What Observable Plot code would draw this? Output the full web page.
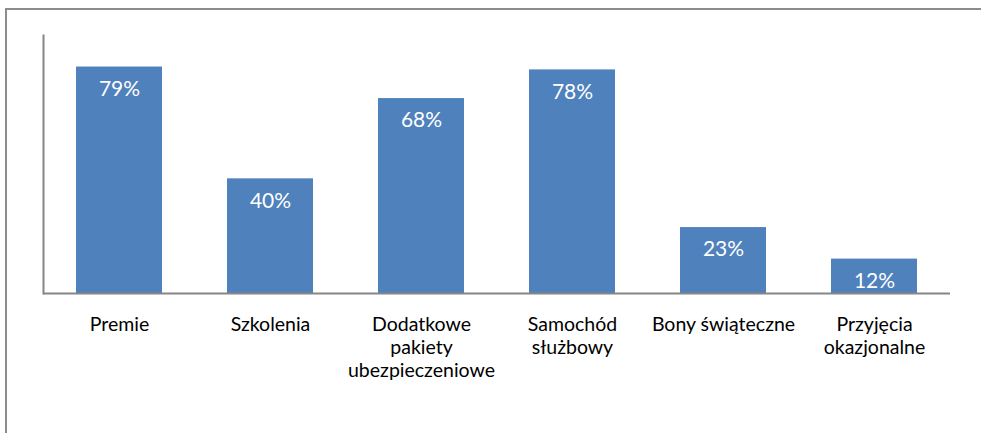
<!DOCTYPE html>
<html>
<head>
<meta charset="utf-8">
<script src="https://cdn.jsdelivr.net/npm/d3@7"></script>
<script src="https://cdn.jsdelivr.net/npm/@observablehq/plot@0.6"></script>
<style>
  html, body { margin: 0; padding: 0; background: #fff; }
  #wrap { position: relative; width: 981px; height: 433px; overflow: hidden; }
  #frame { position: absolute; left: 5px; top: 8px; width: 1000px; height: 500px;
           border-left: 2px solid #8c8c8c; border-top: 2px solid #8c8c8c; box-sizing: border-box; }
  #chart { position: absolute; left: 0; top: 0; }
</style>
</head>
<body>
<div id="wrap"><div id="frame"></div><div id="chart"></div></div>
<script>
const categories = ["Premie", "Szkolenia", "Dodatkowe pakiety ubezpieczeniowe", "Samochód służbowy", "Bony świąteczne", "Przyjęcia okazjonalne"];
const values = [79, 40, 68, 78, 23, 12];
const tickLabels = ["Premie", "Szkolenia", "Dodatkowe\npakiety\nubezpieczeniowe", "Samochód\nsłużbowy", "Bony świąteczne", "Przyjęcia\nokazjonalne"];

const data = categories.map((c, i) => ({category: c, value: values[i], label: tickLabels[i]}));
const labelOf = new Map(data.map(d => [d.category, d.label]));

const chart = Plot.plot({
  width: 981,
  height: 433,
  marginLeft: 43,
  marginRight: 31,
  marginTop: 35,
  marginBottom: 140,
  style: {fontFamily: "Lato, sans-serif", background: "transparent"},
  x: {domain: categories, paddingInner: 0.43, paddingOuter: 0.215, label: null},
  y: {domain: [0, 90], axis: null},
  marks: [
    Plot.barY(data, {x: "category", y: "value", fill: "#4F81BD"}),
    Plot.text(data, {x: "category", y: "value", text: d => d.value + "%", dy: 22, fill: "white", fontSize: 21}),
    Plot.frame({anchor: "left", stroke: "#868686", strokeWidth: 2}),
    Plot.ruleY([0], {stroke: "#868686", strokeWidth: 2}),
    Plot.axisX({tickSize: 0, tickPadding: 21, fontSize: 19.5, lineHeight: 1.18, fill: "#000", tickFormat: d => labelOf.get(d), label: null})
  ]
});
document.getElementById("chart").appendChild(chart);
</script>
</body>
</html>
